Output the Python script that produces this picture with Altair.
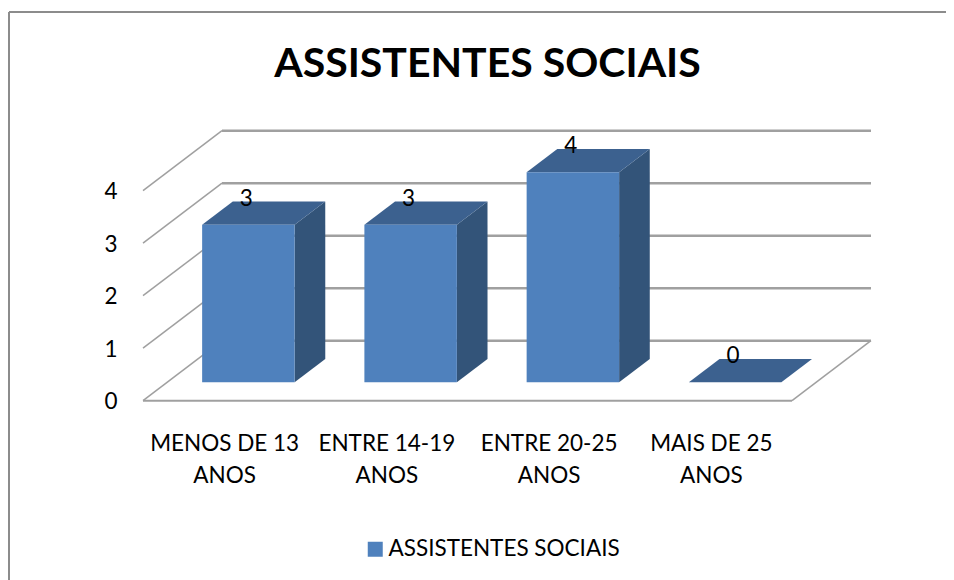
import json
import altair as alt
import pandas as pd

# ---- values ----
categories = ["MENOS DE 13 ANOS", "ENTRE 14-19 ANOS", "ENTRE 20-25 ANOS", "MAIS DE 25 ANOS"]
axis_lines = [["MENOS DE 13", "ANOS"], ["ENTRE 14-19", "ANOS"], ["ENTRE 20-25", "ANOS"], ["MAIS DE 25", "ANOS"]]
values = [3, 3, 4, 0]
y_ticks = [0, 1, 2, 3, 4]
series_name = "ASSISTENTES SOCIAIS"

# ---- oblique projection of the 3-D box (in scale units) ----
W, H = 937, 568
UX, UY = 162.25, 52.5
X0, Y0 = 134.0, 388.7
x_scale = alt.Scale(domain=[-X0 / UX, (W - X0) / UX], nice=False, zero=False)
y_scale = alt.Scale(domain=[-(H - Y0) / UY, Y0 / UY], nice=False, zero=False)
DX, DY = 79 / UX, 60 / UY
D0, D1 = 0.307, 0.695
BAR = 0.57
FONT = "Lato"
TXT = 22.5

front, side, top, grid, labels = [], [], [], [], []
for i, (c, v) in enumerate(zip(categories, values)):
    xl = i + 0.5 - BAR / 2 + D0 * DX
    xr = xl + BAR
    y0 = D0 * DY
    yv = v + D0 * DY
    d = (D1 - D0)
    front.append(dict(cat=c, s=series_name, x=xl, x2=xr, y=y0, y2=yv))
    side += [dict(cat=c, x=xr, y=y0, y2=yv), dict(cat=c, x=xr + d * DX, y=y0 + d * DY, y2=yv + d * DY)]
    top += [dict(cat=c, y=yv, x=xl, x2=xr), dict(cat=c, y=yv + d * DY, x=xl + d * DX, x2=xr + d * DX)]
    labels.append(dict(x=i + 0.5 + D0 * DX, y=v + D1 * DY, t=str(v)))
for t in y_ticks:
    grid.append(dict(x=0, x2=DX, y=t, y2=t + DY, w=1.5))
    grid.append(dict(x=DX, x2=4 + DX, y=t + DY, y2=t + DY, w=2.5))
grid.append(dict(x=0, x2=4, y=0, y2=0, w=2))
grid.append(dict(x=4, x2=4 + DX, y=0, y2=DY, w=1.5))

GRAY = "#a0a0a0"
x_axis = alt.Axis(
    values=[i + 0.5 for i in range(4)],
    labelExpr=json.dumps(axis_lines) + "[floor(datum.value)]",
    orient="bottom", offset=-(H - Y0), domain=False, ticks=False, grid=False, title=None,
    labelFont=FONT, labelFontSize=TXT, labelColor="black", labelPadding=32,
    labelLineHeight=32, labelOverlap=False, labelFlush=False, labelBaseline="top")
y_axis = alt.Axis(
    values=y_ticks, orient="left", offset=-X0, domain=False, ticks=False, grid=False, title=None,
    labelFont=FONT, labelFontSize=TXT, labelColor="black", labelPadding=26, labelOffset=1, format="d")
X = lambda f="x": alt.X(f"{f}:Q", scale=x_scale, axis=x_axis)
Y = lambda f="y": alt.Y(f"{f}:Q", scale=y_scale, axis=y_axis)

frame = alt.Chart(pd.DataFrame({"a": [0]})).mark_rule(color="#8c8c8c", strokeWidth=2)
border = (
    frame.encode(x=alt.value(0), y=alt.value(0), y2=alt.value(H))
    + frame.encode(x=alt.value(0), x2=alt.value(W), y=alt.value(0))
)

grid_layer = alt.Chart(pd.DataFrame(grid)).mark_rule(color=GRAY).encode(
    x=X(), x2="x2:Q", y=Y(), y2="y2:Q",
    strokeWidth=alt.StrokeWidth("w:Q", scale=None),
)

side_layer = alt.Chart(pd.DataFrame(side)).mark_area(color="#335479", orient="vertical").encode(
    x=X(), y=Y(), y2="y2:Q", detail="cat:N")
top_layer = alt.Chart(pd.DataFrame(top)).mark_area(color="#3c618f", orient="horizontal").encode(
    y=Y(), x=X(), x2="x2:Q", detail="cat:N")
front_layer = alt.Chart(pd.DataFrame(front)).mark_rect().encode(
    x=X(), x2="x2:Q", y=Y(), y2="y2:Q",
    color=alt.Color("s:N", scale=alt.Scale(domain=[series_name], range=["#4f81bd"]),
                    legend=alt.Legend(title=None, orient="none", legendX=355, legendY=526,
                                      symbolType="square", symbolSize=225, symbolStrokeWidth=0, labelLimit=400,
                                      labelFont=FONT, labelFontSize=TXT, labelColor="black", labelOffset=2)),
)
label_layer = alt.Chart(pd.DataFrame(labels)).mark_text(
    font=FONT, fontSize=TXT, color="black", baseline="middle", dy=-3, dx=-2
).encode(x=X(), y=Y(), text="t:N")

chart = alt.layer(border, grid_layer, side_layer, top_layer, front_layer, label_layer).properties(
    width=W, height=H,
    padding={"left": 1, "top": 4, "right": 0, "bottom": 0},
    autosize=alt.AutoSizeParams(type="none"),
    title=alt.TitleParams(series_name, font=FONT, fontSize=41, fontWeight="bold", color="black",
                          anchor="middle", frame="group", dx=10, dy=111, baseline="alphabetic"),
).configure_view(stroke=None).configure(background="white")

chart.save("out.html", embed_options={"renderer": "svg", "actions": False})
